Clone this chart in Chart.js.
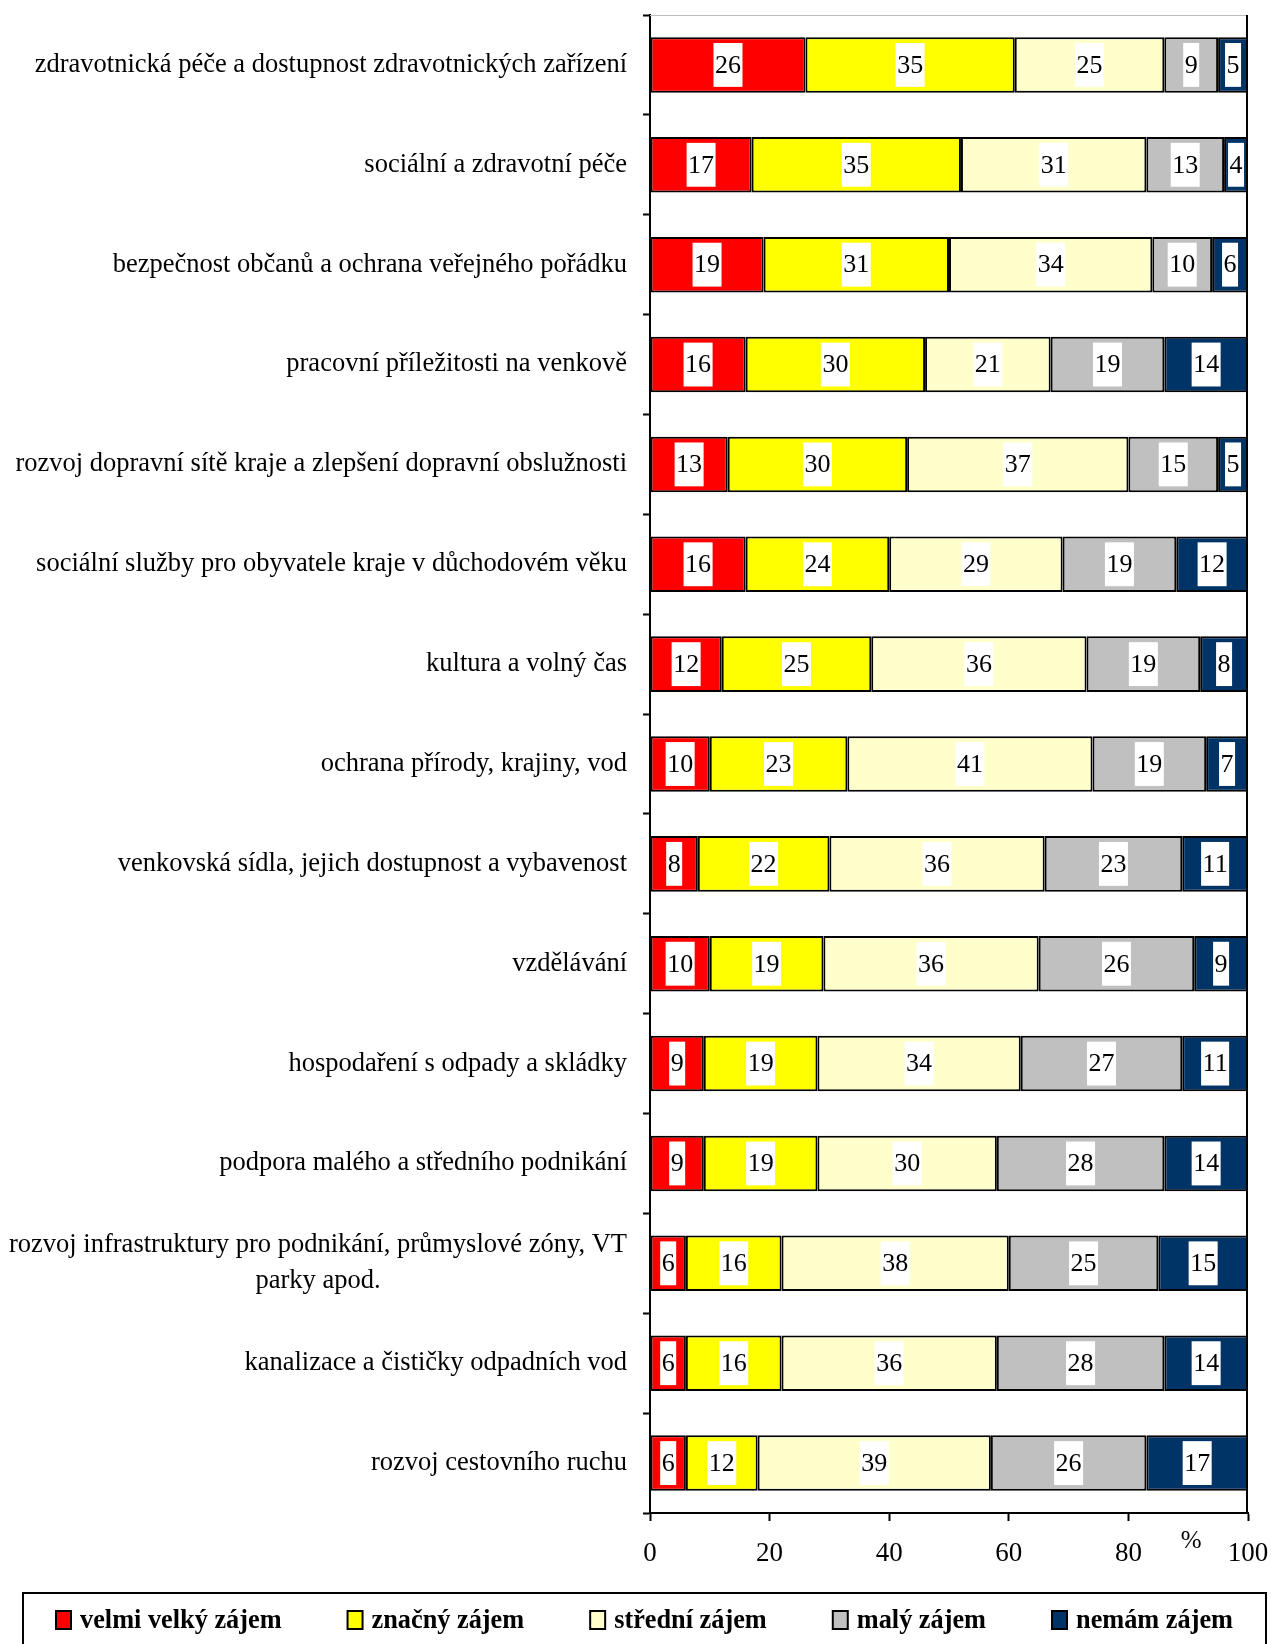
<!DOCTYPE html>
<html>
<head>
<meta charset="utf-8">
<title>Zájem o oblasti rozvoje kraje</title>
<script src="https://cdn.jsdelivr.net/npm/chart.js@4.4.0/dist/chart.umd.min.js"></script>
<style>
  body { margin: 0; background: #fff; }
  canvas { display: block; }
</style>
</head>
<body>
<canvas id="chart" width="1271" height="1644"></canvas>
<script>
// oblasti (shora dolů)
const kategorie = [
  'zdravotnická péče a dostupnost zdravotnických zařízení',
  'sociální a zdravotní péče',
  'bezpečnost občanů a ochrana veřejného pořádku',
  'pracovní příležitosti na venkově',
  'rozvoj dopravní sítě kraje a zlepšení dopravní obslužnosti',
  'sociální služby pro obyvatele kraje v důchodovém věku',
  'kultura a volný čas',
  'ochrana přírody, krajiny, vod',
  'venkovská sídla, jejich dostupnost a vybavenost',
  'vzdělávání',
  'hospodaření s odpady a skládky',
  'podpora malého a středního podnikání',
  ['rozvoj infrastruktury pro podnikání, průmyslové zóny, VT', 'parky apod.'],
  'kanalizace a čističky odpadních vod',
  'rozvoj cestovního ruchu'
];

// podíly odpovědí v %
const velmiVelky = [26, 17, 19, 16, 13, 16, 12, 10, 8, 10, 9, 9, 6, 6, 6];
const znacny     = [35, 35, 31, 30, 30, 24, 25, 23, 22, 19, 19, 19, 16, 16, 12];
const stredni    = [25, 31, 34, 21, 37, 29, 36, 41, 36, 36, 34, 30, 38, 36, 39];
const maly       = [9, 13, 10, 19, 15, 19, 19, 19, 23, 26, 27, 28, 25, 28, 26];
const nemam      = [5, 4, 6, 14, 5, 12, 8, 7, 11, 9, 11, 14, 15, 14, 17];

const xTicks = [0, 20, 40, 60, 80, 100];
const jednotka = '%';

const FONT = '"Liberation Serif", "Times New Roman", serif';

// popisky hodnot, popisky kategorií, rámeček a legenda
const kresleni = {
  id: 'kresleni',
  afterDatasetsDraw(chart) {
    const ctx = chart.ctx;
    ctx.save();
    ctx.font = '26px ' + FONT;
    ctx.textAlign = 'center';
    ctx.textBaseline = 'middle';
    chart.data.datasets.forEach((ds, i) => {
      chart.getDatasetMeta(i).data.forEach((bar, j) => {
        const p = bar.getProps(['x', 'y', 'base', 'height'], true);
        const txt = String(ds.data[j]);
        const w = ctx.measureText(txt).width + 3;
        const h = p.height * 0.79;
        const cx = (p.x + p.base) / 2;
        ctx.fillStyle = '#fff';
        ctx.fillRect(cx - w / 2, p.y - h / 2, w, h);
        ctx.fillStyle = '#000';
        ctx.fillText(txt, cx, p.y + 1);
      });
    });
    ctx.restore();
  },
  afterDraw(chart) {
    const ctx = chart.ctx;
    const a = chart.chartArea;
    const y = chart.scales.y;
    const x = chart.scales.x;
    ctx.save();

    // horní a pravý okraj grafu
    ctx.strokeStyle = '#bbb';
    ctx.lineWidth = 1;
    ctx.beginPath();
    ctx.moveTo(a.left, a.top + 0.5);
    ctx.lineTo(a.right, a.top + 0.5);
    ctx.stroke();
    ctx.strokeStyle = '#000';
    ctx.lineWidth = 2;
    ctx.beginPath();
    ctx.moveTo(a.right - 1, a.top);
    ctx.lineTo(a.right - 1, a.bottom);
    ctx.stroke();

    // popisky kategorií (víceřádkové centrované)
    ctx.font = '26.5px ' + FONT;
    ctx.fillStyle = '#000';
    ctx.textBaseline = 'middle';
    const prave = a.left - 23;
    kategorie.forEach((lab, i) => {
      const cy = y.getPixelForTick(i);
      if (Array.isArray(lab)) {
        const sirka = Math.max(...lab.map(t => ctx.measureText(t).width));
        ctx.textAlign = 'center';
        lab.forEach((t, k) => {
          ctx.fillText(t, prave - sirka / 2, cy + (k - (lab.length - 1) / 2) * 36);
        });
      } else {
        ctx.textAlign = 'right';
        ctx.fillText(lab, prave, cy);
      }
    });

    // jednotka u osy x
    ctx.font = '25px ' + FONT;
    ctx.textAlign = 'center';
    ctx.fillText(jednotka, x.getPixelForValue(90.5), a.bottom + 28);

    // legenda
    const boxL = 23, boxR = 1266, boxT = 1593;
    ctx.strokeStyle = '#000';
    ctx.lineWidth = 2;
    ctx.strokeRect(boxL, boxT, boxR - boxL, 80);
    ctx.font = 'bold 26.3px ' + FONT;
    ctx.textAlign = 'left';
    const gap = 66, ctv = 15, mezera = 9;
    const sirky = chart.data.datasets.map(ds => ctv + mezera + ctx.measureText(ds.label).width);
    const celkem = sirky.reduce((s, v) => s + v, 0) + gap * (sirky.length - 1);
    let lx = (boxL + boxR) / 2 - celkem / 2;
    const ly = 1620;
    chart.data.datasets.forEach((ds, i) => {
      ctx.fillStyle = ds.backgroundColor;
      ctx.fillRect(lx, ly - 9, ctv, 18);
      ctx.lineWidth = 2;
      ctx.strokeRect(lx, ly - 9, ctv, 18);
      ctx.fillStyle = '#000';
      ctx.fillText(ds.label, lx + ctv + mezera, ly + 1);
      lx += sirky[i] + gap;
    });
    ctx.restore();
  }
};

const spolecne = { borderColor: '#000', borderWidth: 2, borderSkipped: false, barPercentage: 0.556, categoryPercentage: 1 };

new Chart(document.getElementById('chart').getContext('2d'), {
  type: 'bar',
  data: {
    labels: kategorie,
    datasets: [
      { label: 'velmi velký zájem', data: velmiVelky, backgroundColor: '#ff0000', ...spolecne },
      { label: 'značný zájem', data: znacny, backgroundColor: '#ffff00', ...spolecne },
      { label: 'střední zájem', data: stredni, backgroundColor: '#ffffcc', ...spolecne },
      { label: 'malý zájem', data: maly, backgroundColor: '#c0c0c0', ...spolecne },
      { label: 'nemám zájem', data: nemam, backgroundColor: '#003366', ...spolecne }
    ]
  },
  options: {
    indexAxis: 'y',
    responsive: false,
    animation: false,
    layout: { padding: { left: 0, right: 23, top: 15, bottom: 51 } },
    plugins: {
      legend: { display: false },
      tooltip: { enabled: false }
    },
    scales: {
      x: {
        stacked: true,
        min: 0,
        max: 100,
        afterBuildTicks: s => { s.ticks = xTicks.map(v => ({ value: v })); },
        afterFit: s => { s.height = 80; s.paddingLeft = 0; s.paddingRight = 0; },
        grid: { drawOnChartArea: false, color: '#000', tickLength: 8, tickWidth: 2 },
        border: { color: '#000', width: 2 },
        ticks: { color: '#000', font: { family: FONT, size: 27 }, padding: 17, maxRotation: 0 }
      },
      y: {
        stacked: true,
        afterFit: s => { s.width = 650; },
        grid: { drawOnChartArea: false, color: '#000', tickLength: 7, tickWidth: 2, offset: true },
        border: { color: '#000', width: 2 },
        ticks: { display: false }
      }
    }
  },
  plugins: [kresleni]
});
</script>
</body>
</html>
